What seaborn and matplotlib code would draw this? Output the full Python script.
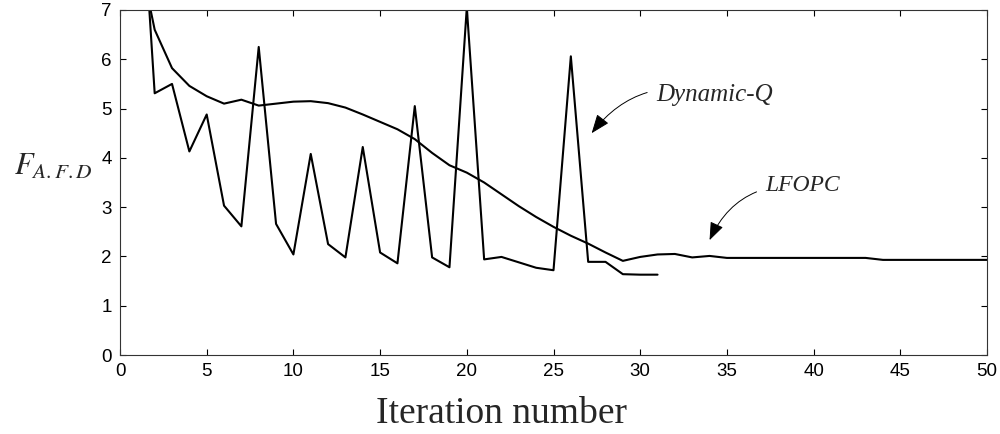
import numpy as np
import pandas as pd
import matplotlib
matplotlib.use("Agg")
import matplotlib.pyplot as plt
import seaborn as sns

# Data
dq_iter = list(range(1, 32))
dq_vals = [10.8, 5.31, 5.50, 4.13, 4.88, 3.03, 2.61, 6.25, 2.66, 2.04,
           4.08, 2.25, 1.98, 4.22, 2.08, 1.86, 5.05, 1.98, 1.78, 7.05,
           1.94, 1.99, 1.88, 1.77, 1.72, 6.06, 1.89, 1.89, 1.64, 1.63, 1.63]

lf_iter = list(range(1, 51))
lf_vals = [8.3, 6.60, 5.82, 5.46, 5.25, 5.10, 5.18, 5.06, 5.10, 5.14,
           5.15, 5.11, 5.02, 4.88, 4.73, 4.58, 4.38, 4.10, 3.85, 3.70,
           3.50, 3.26, 3.02, 2.80, 2.60, 2.42, 2.26, 2.08, 1.91, 1.99,
           2.04, 2.05, 1.98, 2.01, 1.97, 1.97, 1.97, 1.97, 1.97, 1.97,
           1.97, 1.97, 1.97, 1.93, 1.93, 1.93, 1.93, 1.93, 1.93, 1.93]

x_ticks = [0, 5, 10, 15, 20, 25, 30, 35, 40, 45, 50]
y_ticks = [0, 1, 2, 3, 4, 5, 6, 7]

sns.set_theme(style="ticks")
plt.rcParams['font.family'] = ['Liberation Sans', 'DejaVu Sans']
plt.rcParams['mathtext.fontset'] = 'stix'

df = pd.concat([
    pd.DataFrame({"iter": dq_iter, "F": dq_vals, "method": "Dynamic-Q"}),
    pd.DataFrame({"iter": lf_iter, "F": lf_vals, "method": "LFOPC"}),
])

fig = plt.figure(figsize=(10, 4.34), dpi=100)
ax = fig.add_axes([0.12, 0.182, 0.867, 0.795])
sns.lineplot(data=df, x="iter", y="F", hue="method",
             palette={"Dynamic-Q": "black", "LFOPC": "black"},
             linewidth=1.5, legend=False, ax=ax, sort=False)

ax.set_xlim(0, 50)
ax.set_ylim(0, 7)
ax.set_xticks(x_ticks)
ax.set_yticks(y_ticks)
ax.tick_params(direction="in", length=4, width=0.8, top=True, right=True,
               labelsize=13.5, colors="black", pad=6)
for s in ax.spines.values():
    s.set_visible(True)
    s.set_linewidth(0.8)
    s.set_color("#333333")

ax.set_xlabel("Iteration number", family="Liberation Serif", fontsize=27)
ax.xaxis.set_label_coords(0.44, -0.12)
ax.set_ylabel(r"$F_{A.F.D}$", fontsize=22, rotation=0, va="center", ha="center")
ax.yaxis.set_label_coords(-0.077, 0.545)

ax.annotate("Dynamic-Q", xy=(27.2, 4.5), xytext=(30.9, 5.27),
            family="Liberation Serif", style="italic", fontsize=18,
            va="center", ha="left",
            arrowprops=dict(arrowstyle="-|>,head_length=0.65,head_width=0.25",
                            color="black", lw=0.7,
                            connectionstyle="arc3,rad=0.35",
                            shrinkA=4, shrinkB=0))
ax.annotate("LFOPC", xy=(34.0, 2.33), xytext=(37.2, 3.43),
            family="Liberation Serif", style="italic", fontsize=17,
            va="center", ha="left",
            arrowprops=dict(arrowstyle="-|>,head_length=0.65,head_width=0.25",
                            color="black", lw=0.7,
                            connectionstyle="arc3,rad=0.35",
                            shrinkA=4, shrinkB=0))

fig.savefig("out.png", dpi=100)
